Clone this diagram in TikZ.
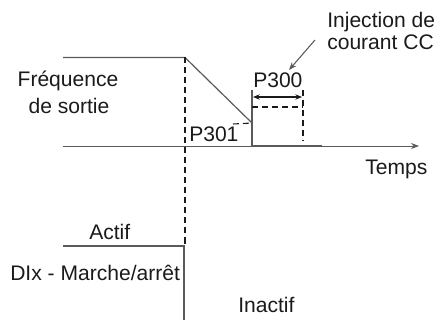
\documentclass[tikz,border=0pt]{standalone}
\usepackage{fontspec}
\setmainfont{Liberation Sans}
\usepackage{xcolor}
\usetikzlibrary{arrows.meta}
\definecolor{sigGray}{HTML}{5A5A5A}
\definecolor{txtBlack}{HTML}{1A1A1A}
\tikzset{
    lbl/.style={font=\fontsize{15.8}{18}\selectfont, text=txtBlack, inner sep=0pt},
    sigline/.style={draw=sigGray, line width=0.9pt},
    guide/.style={draw=txtBlack, line width=0.8pt, dash pattern=on 4.5pt off 3pt},
    axisArrow/.style={-{Stealth[length=6pt,width=4.5pt]}, draw=sigGray, line width=0.7pt},
    dimArrow/.style={{Stealth[length=5pt,width=4pt]}-{Stealth[length=5pt,width=4pt]}, draw=txtBlack, line width=0.8pt},
    callArrow/.style={-{Stealth[length=6pt,width=4.5pt]}, draw=sigGray, line width=0.8pt},
}
\begin{document}
\begin{tikzpicture}[x=0.75pt,y=-0.75pt]
\useasboundingbox (0,0) rectangle (435,320);

% ---------------- key points ----------------
\coordinate (fStart)  at (63,57.5);
\coordinate (fBrake)  at (185,57.5);
\coordinate (fLow)    at (252,123);
\coordinate (dcTop)   at (252,90);
\coordinate (dcBase)  at (252,146);
\coordinate (dcEnd)   at (322,146);
\coordinate (axStart) at (63,146);
\coordinate (axEnd)   at (419,146);
\coordinate (runStart) at (63,246);
\coordinate (runStop)  at (184,246);
\coordinate (runDown)  at (184,320);

% ---------------- labels ----------------
\node[lbl, anchor=base] (freqA) at (68,87) {Fréquence};
\node[lbl, anchor=base] (freqB) at (69,114) {de sortie};
\node[lbl, anchor=base west] (injA) at (327,28) {Injection de};
\node[lbl, anchor=base west] (injB) at (327,50) {courant CC};
\node[lbl, anchor=base west] (pDur) at (253,88) {P300};
\node[lbl, anchor=base west] (pFrq) at (189,142) {P301};
\node[lbl, anchor=base west] (time) at (365,175) {Temps};
\node[lbl, anchor=base west] (act)  at (89,239) {Actif};
\node[lbl, anchor=base west] (dix)  at (10,280) {DIx - Marche/arrêt};
\node[lbl, anchor=base west] (inact) at (238,312) {Inactif};

% ---------------- output frequency ----------------
\draw[axisArrow] (axStart) -- (axEnd);
\draw[sigline] (fStart) -- (fBrake) -- (fLow);
\draw[sigline] (dcTop) -- (dcBase) -- (dcEnd);

% DC injection level and duration
\draw[guide] (252,107) -- (303,107);
\draw[guide] (303,90) -- (303,141);
\draw[dimArrow] (253,97) -- (302,97);
\draw[guide] (233,124) -- (fLow);

% brake instant
\draw[guide] (fBrake) -- (185,245);

% callout
\draw[callArrow] (315,40) -- (289,70);

% ---------------- DIx run/stop ----------------
\draw[sigline] (runStart) -- (runStop) -- (runDown);

\end{tikzpicture}
\end{document}
